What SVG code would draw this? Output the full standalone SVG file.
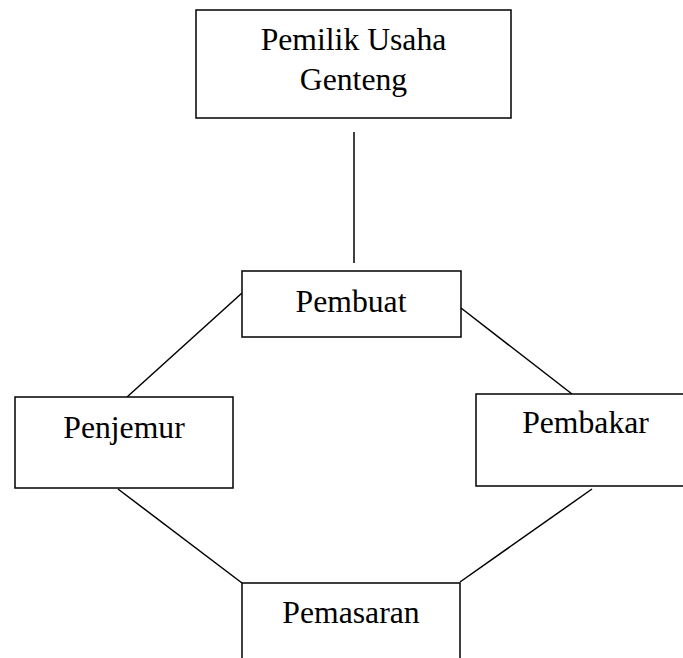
<svg xmlns="http://www.w3.org/2000/svg" width="683" height="658" viewBox="0 0 683 658">
<style>
rect{fill:#fff;stroke:#000;stroke-width:1.5}
line{stroke:#000;stroke-width:1.5}
text{font-family:"Liberation Serif","Times New Roman",serif;font-size:31.7px;fill:#000;text-anchor:middle}
</style>
<rect x="0" y="0" width="683" height="658" style="stroke:none"/>
<g id="connectors">
<line x1="354" y1="132" x2="354" y2="263"/>
<line x1="242" y1="293" x2="127" y2="397"/>
<line x1="461" y1="308" x2="572" y2="394"/>
<line x1="118" y1="489" x2="242" y2="583"/>
<line x1="592" y1="489" x2="460" y2="582"/>
</g>
<g id="pemilik">
<rect x="196" y="10" width="315" height="108"/>
<text x="353.5" y="50">Pemilik Usaha</text>
<text x="353.5" y="90">Genteng</text>
</g>
<g id="pembuat">
<rect x="242" y="271" width="219" height="66"/>
<text x="351" y="312">Pembuat</text>
</g>
<g id="penjemur">
<rect x="15" y="397" width="218" height="91"/>
<text x="124" y="438">Penjemur</text>
</g>
<g id="pembakar">
<rect x="476" y="394" width="219" height="92"/>
<text x="585.5" y="433">Pembakar</text>
</g>
<g id="pemasaran">
<rect x="242" y="583" width="218" height="91"/>
<text x="351" y="623">Pemasaran</text>
</g>
</svg>
